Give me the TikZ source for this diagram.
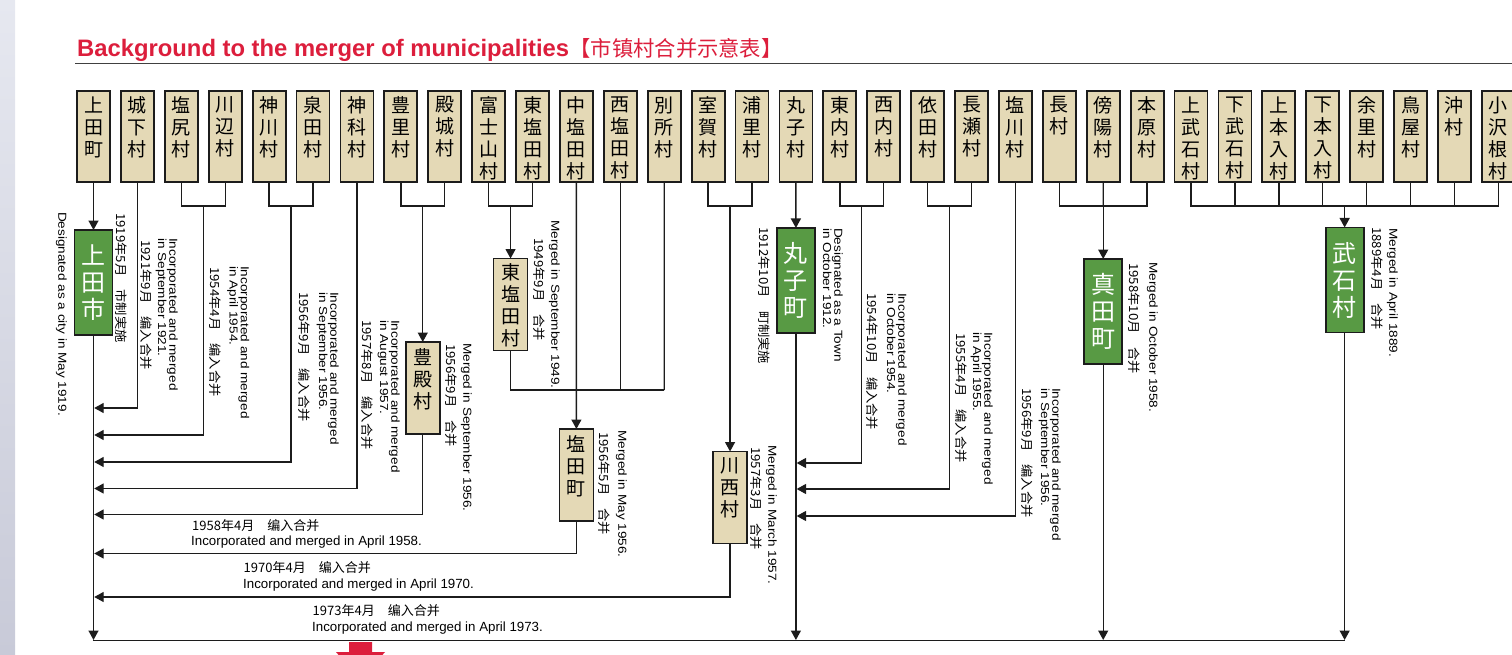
\documentclass[tikz,border=0pt]{standalone}
\usepackage{fontspec}
\setmainfont{Liberation Sans}
\newfontfamily\jpfont{Noto Sans CJK JP}
\newfontfamily\cjksc{Noto Sans CJK SC}
\newfontfamily\enrot[FakeStretch=1.17]{Liberation Sans}
\newfontfamily\cnrot[FakeStretch=1.06]{Noto Sans CJK SC}
\usetikzlibrary{arrows.meta}
\definecolor{beige}{RGB}{228,217,182}
\definecolor{ugreen}{RGB}{88,154,68}
\definecolor{tred}{RGB}{220,30,60}
\definecolor{lk}{RGB}{28,28,28}
\tikzset{
  conn/.style={line width=1.4pt, draw=lk},
  arr/.style={conn, -{Triangle[width=10pt,length=9.5pt]}},
  topbox/.style={draw=lk, line width=1.8pt, fill=beige, minimum width=33pt, minimum height=91pt, inner sep=0pt, outer sep=0pt, anchor=north},
  midbox/.style={draw=lk, line width=1.8pt, fill=beige, minimum width=34pt, minimum height=92pt, inner sep=0pt, outer sep=0pt},
  greenbox/.style={draw=lk, line width=1.8pt, fill=ugreen, minimum width=38pt, minimum height=105pt, inner sep=0pt, outer sep=0pt, text=white, font=\jpfont\fontsize{24}{27}\selectfont, align=center},
  vtxt/.style={font=\jpfont\fontsize{19}{22}\selectfont, align=center, inner sep=0pt, anchor=north},
  en/.style={font=\enrot\fontsize{11.6}{11.2}\selectfont, align=left, inner sep=0pt, rotate=-90, anchor=north west},
  cn/.style={font=\cnrot\fontsize{12.5}{14}\selectfont, inner sep=0pt, rotate=-90, anchor=north west},
  hen/.style={font=\fontsize{13.3}{14}\selectfont, inner sep=0pt, anchor=base west},
  hcn/.style={font=\cjksc\fontsize{13}{14}\selectfont, inner sep=0pt, anchor=west},
}
\begin{document}
\begin{tikzpicture}[x=1pt,y=-1pt]
\useasboundingbox (0,0) rectangle (1512,655);
% left strip
\shade[top color={rgb,255:red,230;green,232;blue,240}, bottom color={rgb,255:red,200;green,202;blue,216}] (0,0) rectangle (15,655);
% title
\node[anchor=base west, inner sep=0pt, font=\bfseries\fontsize{23.8}{28}\selectfont, text=tred] (title) at (77,56.5) {Background to the merger of municipalities};
\node[anchor=base west, inner sep=0pt, font=\cjksc\fontsize{21.3}{25}\selectfont, text=tred] (titlecn) at (title.base east) {【市镇村合并示意表】};
\coordinate (ul0) at (75,63.5);
\coordinate (ul1) at (1512,63.5);
\draw[line width=1.2pt, draw=black!75] (ul0) -- (ul1);
% top boxes
\foreach \i/\t in {0/{上\\田\\町},1/{城\\下\\村},2/{塩\\尻\\村},3/{川\\辺\\村},4/{神\\川\\村},5/{泉\\田\\村},6/{神\\科\\村},7/{豊\\里\\村},8/{殿\\城\\村},9/{富\\士\\山\\村},10/{東\\塩\\田\\村},11/{中\\塩\\田\\村},12/{西\\塩\\田\\村},13/{別\\所\\村},14/{室\\賀\\村},15/{浦\\里\\村},16/{丸\\子\\村},17/{東\\内\\村},18/{西\\内\\村},19/{依\\田\\村},20/{長\\瀬\\村},21/{塩\\川\\村},22/{長\\村},23/{傍\\陽\\村},24/{本\\原\\村},25/{上\\武\\石\\村},26/{下\\武\\石\\村},27/{上\\本\\入\\村},28/{下\\本\\入\\村},29/{余\\里\\村},30/{鳥\\屋\\村},31/{沖\\村},32/{小\\沢\\根\\村}}{
  \node[topbox] (b\i) at ({93.5+43.9*\i},91) {};
  \node[vtxt] (t\i) at ([yshift=-5.5pt]b\i.north) {\t};
}
% green boxes
\node[greenbox] (gU) at (93.5,282.5) {上\\田\\市};
\node[greenbox] (gM) at (795.9,280.5) {丸\\子\\町};
\node[greenbox] (gS) at (1103.2,311.5) {真\\田\\町};
\node[greenbox] (gT) at (1344.65,280) {武\\石\\村};
% mid boxes
\node[midbox] (bT) at (422.75,388) {};
\node[vtxt] (tT) at ([yshift=-6pt]bT.north) {豊\\殿\\村};
\node[midbox] (bH) at (510.55,304.5) {};
\node[vtxt] (tH) at ([yshift=-5pt]bH.north) {東\\塩\\田\\村};
\node[midbox] (bS) at (576.4,475) {};
\node[vtxt] (tS) at ([yshift=-6pt]bS.north) {塩\\田\\町};
\node[midbox] (bK) at (730.05,497.5) {};
\node[vtxt] (tK) at ([yshift=-6pt]bK.north) {川\\西\\村};
% coordinates
\coordinate (j23) at (203.25,206);
\coordinate (j45) at (291.05,206);
\coordinate (j78) at (422.75,206);
\coordinate (j910) at (510.55,206);
\coordinate (j13) at (664.2,390);
\coordinate (j1415) at (730.05,206);
\coordinate (j1718) at (861.75,206);
\coordinate (j1920) at (949.55,206);
\coordinate (j2224) at (1103.2,206);
\coordinate (jT) at (1344.65,206);
\coordinate (e1) at (94.2,408);
\coordinate (e2) at (94.2,435);
\coordinate (e3) at (94.2,462);
\coordinate (e4) at (94.2,488.5);
\coordinate (e5) at (94.2,514.5);
\coordinate (e6) at (94.2,553.5);
\coordinate (e7) at (94.2,597);
\coordinate (m1) at (796.6,463);
\coordinate (m2) at (796.6,489);
\coordinate (m3) at (796.6,516);
\coordinate (bot0) at (93.5,640);
\coordinate (bot1) at (795.9,640);
\coordinate (bot2) at (1103.2,640);
\coordinate (bot3) at (1344.65,640);
\coordinate (bl0) at (92.8,640.3);
\coordinate (bl3) at (1345.35,640.3);
% connectors
\draw[arr] (b0.south) -- (gU.north);
\draw[arr] (gU.south) -- (bot0);
\draw[arr] (b1.south) |- (e1);
\draw[conn] (b2.south) |- (j23) -| (b3.south);
\draw[arr] (j23) |- (e2);
\draw[conn] (b4.south) |- (j45) -| (b5.south);
\draw[arr] (j45) |- (e3);
\draw[arr] (b6.south) |- (e4);
\draw[conn] (b7.south) |- (j78) -| (b8.south);
\draw[arr] (j78) -- (bT.north);
\draw[arr] (bT.south) |- (e5);
\draw[conn] (b9.south) |- (j910) -| (b10.south);
\draw[arr] (j910) -- (bH.north);
\draw[conn] (bH.south) |- (j13);
\draw[conn] (b13.south) -- (j13);
\draw[conn] (b12.south) -- (b12.south |- j13);
\draw[arr] (b11.south) -- (bS.north);
\draw[arr] (bS.south) |- (e6);
\draw[conn] (b14.south) |- (j1415) -| (b15.south);
\draw[arr] (j1415) -- (bK.north);
\draw[arr] (bK.south) |- (e7);
\draw[arr] (b16.south) -- (gM.north);
\draw[arr] (gM.south) -- (bot1);
\draw[conn] (b17.south) |- (j1718) -| (b18.south);
\draw[arr] (j1718) |- (m1);
\draw[conn] (b19.south) |- (j1920) -| (b20.south);
\draw[arr] (j1920) |- (m2);
\draw[arr] (b21.south) |- (m3);
\draw[conn] (b22.south) |- (j2224) -| (b24.south);
\draw[conn] (b23.south) -- (j2224);
\draw[arr] (j2224) -- (gS.north);
\draw[arr] (gS.south) -- (bot2);
\draw[conn] (b25.south) |- (jT) -| (b32.south);
\foreach \i in {26,...,31}{\draw[conn] (b\i.south) -- (b\i.south |- jT);}
\draw[arr] (jT) -- (gT.north);
\draw[arr] (gT.south) -- (bot3);
\draw[conn] (bl0) -- (bl3);
% rotated labels
\node[en] (lUe) at (67,212) {Designated as a city in May 1919.};
\node[cn] (lUc) at (127,213) {1919年5月　市制実施};
\node[en] (l1e) at (178,238) {Incorporated and merged\\in September 1921.};
\node[cn] (l1c) at (152.5,240) {1921年9月　编入合并};
\node[en] (l2e) at (249.5,266) {Incorporated and merged\\in April 1954.};
\node[cn] (l2c) at (221,267) {1954年4月　编入合并};
\node[en] (l3e) at (339,292) {Incorporated and merged\\in September 1956.};
\node[cn] (l3c) at (310,292) {1956年9月　编入合并};
\node[en] (l4e) at (400,320) {Incorporated and merged\\in August 1957.};
\node[cn] (l4c) at (373,320) {1957年8月　编入合并};
\node[en] (l5e) at (472,343) {Merged in September 1956.};
\node[cn] (l5c) at (457,344) {1956年9月　合并};
\node[en] (l6e) at (560,220) {Merged in September 1949.};
\node[cn] (l6c) at (545,238) {1949年9月　合并};
\node[en] (l7e) at (627,430) {Merged in May 1956.};
\node[cn] (l7c) at (610,432) {1956年5月　合并};
\node[en] (l8e) at (777,445) {Merged in March 1957.};
\node[cn] (l8c) at (762,447) {1957年3月　合并};
\node[cn] (lMc) at (770,227) {1912年10月　町制実施};
\node[en] (lMe) at (843,228) {Designated as a Town\\in October 1912.};
\node[en] (l9e) at (907,293) {Incorporated and merged\\in October 1954.};
\node[cn] (l9c) at (878,293) {1954年10月　编入合并};
\node[en] (l10e) at (993,332) {Incorporated and merged\\in April 1955.};
\node[cn] (l10c) at (967,333) {1955年4月　编入合并};
\node[en] (l11e) at (1061,388) {Incorporated and merged\\in September 1956.};
\node[cn] (l11c) at (1033,388) {1956年9月　编入合并};
\node[en] (l12e) at (1158,262) {Merged in October 1958.};
\node[cn] (l12c) at (1140,263) {1958年10月　合并};
\node[en] (l13e) at (1398,228) {Merged in April 1889.};
\node[cn] (l13c) at (1383,227) {1889年4月　合并};
% horizontal labels
\node[hcn] (h1c) at (192,526) {1958年4月　编入合并};
\node[hen] (h1e) at (191,545) {Incorporated and merged in April 1958.};
\node[hcn] (h2c) at (243.5,567.5) {1970年4月　编入合并};
\node[hen] (h2e) at (243,588) {Incorporated and merged in April 1970.};
\node[hcn] (h3c) at (312.5,611) {1973年4月　编入合并};
\node[hen] (h3e) at (312,631) {Incorporated and merged in April 1973.};
% red arrow
\fill[tred] (349,642) -- (372,642) -- (372,652) -- (385,652) -- (360.5,680) -- (336,652) -- (349,652) -- cycle;
\end{tikzpicture}
\end{document}
